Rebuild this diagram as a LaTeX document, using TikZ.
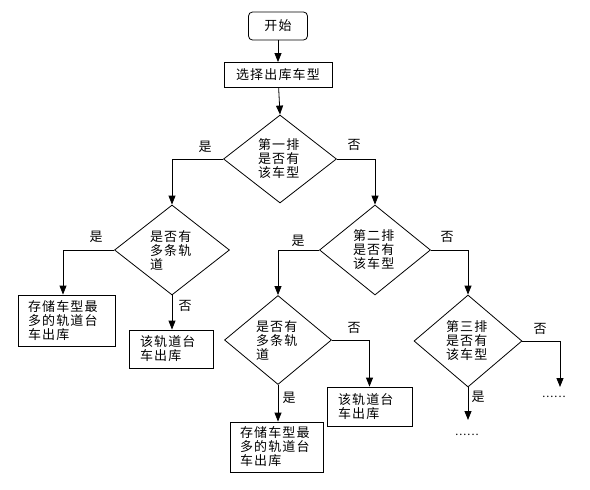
\documentclass[tikz,border=0pt]{standalone}
\usepackage{fontspec}
\setmainfont[LetterSpace=9]{Noto Sans CJK SC}
\usetikzlibrary{shapes.geometric,arrows.meta,calc}
\begin{document}
\begin{tikzpicture}[x=1pt,y=-1pt,
  every node/.style={font=\fontsize{13}{14}\selectfont},
  box/.style={draw, line width=0.8pt, inner ysep=0pt, align=left, anchor=center},
  dia/.style={draw, diamond, line width=0.8pt, inner sep=0pt, align=left, text width=44pt},
  arr/.style={-{Triangle[length=9pt,width=7pt]}, line width=0.8pt},
  lbl/.style={inner sep=0pt},
  dots/.style={inner sep=0pt, font=\fontsize{11}{12}\selectfont}]
\useasboundingbox (0,0) rectangle (590,490);

\node[box, rounded corners=4pt, minimum width=59pt, minimum height=28pt, align=center, inner xsep=0pt] (start) at (278,26) {开始};
\node[box, minimum width=108pt, minimum height=25pt, align=center, inner xsep=0pt] (sel) at (278,75) {选择出库车型};
\node[dia, minimum width=113pt, minimum height=88pt] (d1) at (280,159) {第一排\\是否有\\该车型};
\node[dia, minimum width=115pt, minimum height=90pt] (d2) at (172,250) {是否有\\多条轨\\道};
\node[dia, minimum width=111pt, minimum height=90pt] (d3) at (375,250) {第二排\\是否有\\该车型};
\node[dia, minimum width=107pt, minimum height=89pt] (d4) at (278,340) {是否有\\多条轨\\道};
\node[dia, minimum width=108pt, minimum height=92pt] (d5) at (468,341) {第三排\\是否有\\该车型};

\node[box, inner xsep=10pt, text width=77pt, minimum height=51pt] (b1) at (66.5,320.5) {存储车型最\\多的轨道台\\车出库};
\node[box, inner xsep=11pt, text width=62pt, minimum height=38pt] (b2) at (171,349) {该轨道台\\车出库};
\node[box, inner xsep=11pt, text width=63pt, minimum height=39pt] (b3) at (369.5,406.5) {该轨道台\\车出库};
\node[box, inner xsep=10pt, text width=73pt, minimum height=50pt] (b4) at (276.5,447) {存储车型最\\多的轨道台\\车出库};

\coordinate (e1) at (560,387);
\coordinate (e2) at (468,420);
\node[dots] (dt1) at (554,397) {......};
\node[dots] (dt2) at (467,435) {......};

\draw[arr] (start) -- (sel);
\draw[arr] (sel) -- (d1.north);
\draw[arr] (d1.west) -| (d2.north);
\draw[arr] (d1.east) -| (d3.north);
\draw[arr] (d2.west) -| ([xshift=-3.5pt]b1.north);
\draw[arr] (d2.south) -- (d2.south |- b2.north);
\draw[arr] (d3.west) -| (d4.north);
\draw[arr] (d3.east) -| (d5.north);
\draw[arr] (d4.east) -| (b3.north);
\draw[arr] (d4.south) -- (d4.south |- b4.north);
\draw[arr] (d5.east) -| (e1);
\draw[arr] (d5.south) -- (e2);

\node[lbl] (l1) at (205,147) {是};
\node[lbl] (l2) at (354,145) {否};
\node[lbl] (l3) at (96,237) {是};
\node[lbl] (l4) at (185,306) {否};
\node[lbl] (l5) at (298,241) {是};
\node[lbl] (l6) at (447,237) {否};
\node[lbl] (l7) at (354,328) {否};
\node[lbl] (l8) at (289,398) {是};
\node[lbl] (l9) at (540,329) {否};
\node[lbl] (l10) at (478,397) {是};
\end{tikzpicture}
\end{document}
